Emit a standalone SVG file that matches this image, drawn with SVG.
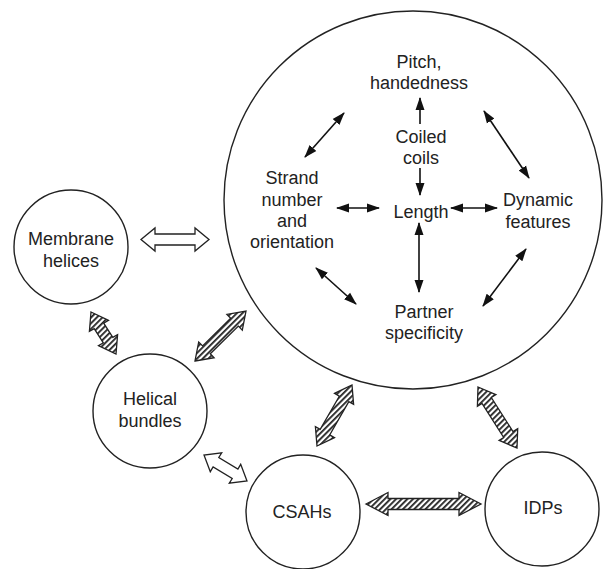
<svg xmlns="http://www.w3.org/2000/svg" width="604" height="569" viewBox="0 0 604 569">
<defs>
<style>
.node{fill:#fff;stroke:#222;stroke-width:1.4}
.t{font-family:"Liberation Sans",Arial,sans-serif;font-size:18px;fill:#222;text-anchor:middle}
.thin{stroke:#111;stroke-width:1.6;fill:none}
.blk{stroke:#222;stroke-width:1.3;stroke-linejoin:miter}
.white{fill:#fff}
.hatch{fill:url(#hatch)}
</style>
<pattern id="hatch" patternUnits="userSpaceOnUse" width="4" height="4" patternTransform="rotate(45)">
<rect width="4" height="4" fill="#fff"/>
<rect width="1.8" height="4" fill="#222"/>
</pattern>
<marker id="ah" markerUnits="userSpaceOnUse" markerWidth="13" markerHeight="10" refX="12" refY="5" orient="auto-start-reverse">
<path d="M0,0.5 L13,5 L0,9.5 z" fill="#111"/>
</marker>
</defs>
<rect width="604" height="569" fill="#fff"/>

<g id="coiled-coils">
<circle class="node" cx="413" cy="200" r="189"/>
<text class="t" x="419" y="68">Pitch,</text>
<text class="t" x="419" y="89">handedness</text>
<text class="t" x="421" y="143">Coiled</text>
<text class="t" x="421" y="164">coils</text>
<text class="t" x="292" y="184">Strand</text>
<text class="t" x="292" y="206">number</text>
<text class="t" x="292" y="227">and</text>
<text class="t" x="292" y="248">orientation</text>
<text class="t" x="421" y="218">Length</text>
<text class="t" x="538" y="206">Dynamic</text>
<text class="t" x="538" y="228">features</text>
<text class="t" x="424" y="318">Partner</text>
<text class="t" x="424" y="339">specificity</text>
</g>

<g id="membrane-helices">
<circle class="node" cx="71" cy="247" r="57"/>
<text class="t" x="71" y="245">Membrane</text>
<text class="t" x="71" y="267">helices</text>
</g>

<g id="helical-bundles">
<circle class="node" cx="150" cy="411" r="57"/>
<text class="t" x="150" y="405">Helical</text>
<text class="t" x="150" y="427">bundles</text>
</g>

<g id="csahs">
<circle class="node" cx="303" cy="512" r="57"/>
<text class="t" x="302" y="518">CSAHs</text>
</g>

<g id="idps">
<circle class="node" cx="542" cy="509" r="57"/>
<text class="t" x="543" y="514">IDPs</text>
</g>

<g id="connectors">
<line class="thin" x1="420" y1="124" x2="420" y2="98" marker-end="url(#ah)"/>
<line class="thin" x1="420" y1="168" x2="420" y2="195" marker-end="url(#ah)"/>
<line class="thin" x1="305" y1="157" x2="344" y2="113" marker-start="url(#ah)" marker-end="url(#ah)"/>
<line class="thin" x1="484" y1="111" x2="529" y2="178" marker-start="url(#ah)" marker-end="url(#ah)"/>
<line class="thin" x1="337" y1="208" x2="379" y2="208" marker-start="url(#ah)" marker-end="url(#ah)"/>
<line class="thin" x1="451" y1="208" x2="497" y2="208" marker-start="url(#ah)" marker-end="url(#ah)"/>
<line class="thin" x1="419" y1="223" x2="419" y2="292" marker-start="url(#ah)" marker-end="url(#ah)"/>
<line class="thin" x1="316" y1="268" x2="356" y2="304" marker-start="url(#ah)" marker-end="url(#ah)"/>
<line class="thin" x1="526" y1="249" x2="483" y2="306" marker-start="url(#ah)" marker-end="url(#ah)"/>

<polygon class="blk white" points="141,239.5 155,228 155,234 195,234 195,228 209,239.5 195,251 195,245 155,245 155,251"/>
<polygon class="blk white" points="204,455 210.3,471.7 213.1,467 232.2,478.5 229.3,483.2 247,481 240.7,464.3 237.9,469.1 218.8,457.5 221.7,452.8"/>
<polygon class="blk hatch" points="366,504 388,492.5 388,498.5 459,498.5 459,492.5 481,504 459,515.5 459,509.5 388,509.5 388,515.5"/>
<polygon class="blk hatch" points="91,312 108.5,320.4 103.7,323.2 112.8,337.4 117.6,334.7 116,354 98.5,345.6 103.3,342.8 94.2,328.6 89.4,331.4"/>
<polygon class="blk hatch" points="195,361 214.1,357.7 210.3,353.7 238.4,326.1 242.3,330.1 246,311 226.9,314.4 230.7,318.3 202.6,345.9 198.7,342"/>
<polygon class="blk hatch" points="317,446 334.5,437.6 329.7,434.9 348.8,401.6 353.6,404.4 352,385 334.5,393.4 339.3,396.2 320.2,429.4 315.4,426.6"/>
<polygon class="blk hatch" points="478,387 495.9,394.6 491.3,397.5 513,431.6 517.7,428.6 517,448 499.1,440.4 503.7,437.5 482,403.5 477.4,406.4"/>
</g>
</svg>
